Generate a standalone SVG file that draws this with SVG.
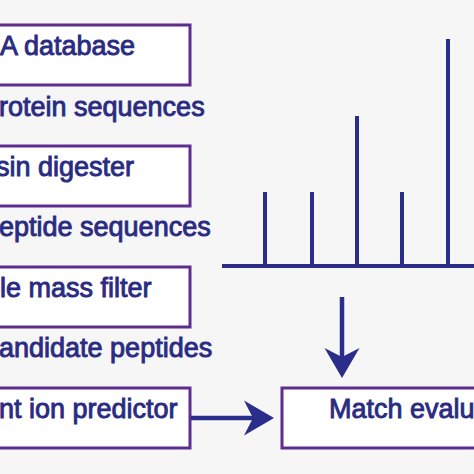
<svg xmlns="http://www.w3.org/2000/svg" width="474" height="474" viewBox="0 0 474 474">
<style>
.box{fill:#ffffff;stroke:#5e2d8f;stroke-width:3}
.t{font-family:"Liberation Sans",Arial,sans-serif;font-size:27px;fill:#2a2b82;stroke:#2a2b82;stroke-width:0.9}
.ln{stroke:#2b2d8a;stroke-width:4.5;fill:none}
.sp{stroke:#2b2d8a;stroke-width:4;fill:none}
</style>
<defs>
<marker id="ah" markerUnits="userSpaceOnUse" viewBox="-12 -20 36 40" markerWidth="36" markerHeight="40" refX="0" refY="0" orient="auto">
<path d="M21,0 L-9,-17.5 L0,0 L-9,17.5 Z" fill="#2b2d8a"/>
</marker>
</defs>
<rect width="474" height="474" fill="#f6f6f6"/>
<g id="fasta-db">
<rect class="box" x="-10" y="25" width="200" height="60"/>
<text class="t" x="0" y="55">A database</text>
</g>
<text id="lbl-protein" class="t" x="-1" y="116">rotein sequences</text>
<g id="digester">
<rect class="box" x="-10" y="146" width="200" height="60"/>
<text class="t" x="-4" y="176">sin digester</text>
</g>
<text id="lbl-peptide" class="t" x="-1" y="236">eptide sequences</text>
<g id="mass-filter">
<rect class="box" x="-10" y="267" width="200" height="60"/>
<text class="t" x="0" y="297">le mass filter</text>
</g>
<text id="lbl-candidate" class="t" x="-1" y="357">andidate peptides</text>
<g id="ion-predictor">
<rect class="box" x="-10" y="388" width="200" height="60"/>
<text class="t" x="-1" y="418">nt ion predictor</text>
</g>
<g id="match-eval">
<rect class="box" x="282" y="388" width="220" height="60"/>
<text class="t" x="329" y="418">Match evalu</text>
</g>
<g id="spectrum">
<path class="sp" d="M222,266 H474 M265,266 V192 M312,266 V192 M357,266 V116 M402,266 V192 M448,266 V39"/>
</g>
<g id="connectors">
<path class="ln" d="M191,418 H253" marker-end="url(#ah)"/>
<path class="ln" d="M342,297 V357" marker-end="url(#ah)"/>
</g>
</svg>
